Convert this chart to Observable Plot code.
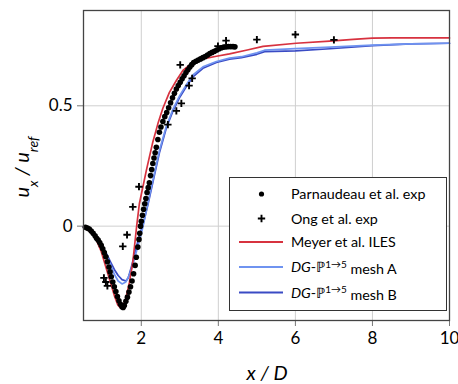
<!DOCTYPE html>
<html><head><meta charset="utf-8">
<script src="https://cdn.jsdelivr.net/npm/d3@7"></script>
<script src="https://cdn.jsdelivr.net/npm/@observablehq/plot@0.6"></script>
<style>body{margin:0;background:#fff;} svg{font-family:Lato, sans-serif;}</style>
</head><body><div id="chart"></div>
<script>
const xTicks = [2, 4, 6, 8, 10];
const yTicks = [0, 0.5];

const parnX = [0.55,0.6,0.65,0.7,0.75,0.8,0.84,0.88,0.92,0.96,1.0,1.04,1.08,1.12,1.16,1.19,1.22,1.26,1.3,1.34,1.38,1.42,1.46,1.5,1.53,1.56,1.6,1.64,1.68,1.72,1.76,1.8,1.84,1.87,1.91,1.94,1.96,1.98,2.0,2.03,2.06,2.09,2.12,2.15,2.18,2.21,2.24,2.27,2.3,2.33,2.36,2.39,2.43,2.47,2.51,2.56,2.61,2.66,2.71,2.76,2.81,2.86,2.91,2.96,3.01,3.06,3.11,3.16,3.21,3.26,3.31,3.36,3.42,3.48,3.54,3.6,3.66,3.72,3.78,3.84,3.9,3.96,4.02,4.08,4.14,4.2,4.26,4.32,4.38,4.43];
const parnY = [-0.005,-0.008,-0.012,-0.02,-0.03,-0.04,-0.05,-0.058,-0.068,-0.08,-0.094,-0.11,-0.127,-0.148,-0.17,-0.19,-0.21,-0.232,-0.252,-0.272,-0.292,-0.31,-0.325,-0.335,-0.338,-0.33,-0.312,-0.295,-0.274,-0.252,-0.228,-0.198,-0.163,-0.129,-0.087,-0.055,-0.03,0.0,0.02,0.045,0.07,0.093,0.115,0.14,0.16,0.18,0.21,0.235,0.26,0.283,0.305,0.328,0.36,0.39,0.412,0.435,0.455,0.472,0.492,0.513,0.533,0.552,0.57,0.584,0.598,0.612,0.625,0.638,0.65,0.661,0.671,0.68,0.685,0.69,0.695,0.7,0.705,0.711,0.717,0.722,0.727,0.732,0.737,0.741,0.744,0.745,0.746,0.746,0.746,0.745];

const ongX = [1.03,1.08,1.12,1.52,1.63,1.78,1.94,2.69,2.91,3.04,3.01,3.24,3.32,3.99,4.2,5.0,6.0,7.0];
const ongY = [-0.215,-0.232,-0.248,-0.084,-0.036,0.08,0.164,0.422,0.479,0.51,0.67,0.584,0.614,0.748,0.771,0.775,0.796,0.774];

const meyerX = [0.5,0.65,0.8,0.96,1.09,1.22,1.31,1.39,1.46,1.52,1.6,1.69,1.78,1.88,1.95,2.13,2.3,2.43,2.56,2.73,2.91,3.08,3.34,3.6,3.95,4.29,4.75,5.16,6.02,6.89,7.5,8.0,8.5,10];
const meyerY = [-0.003,-0.02,-0.045,-0.105,-0.175,-0.245,-0.293,-0.327,-0.34,-0.336,-0.3,-0.235,-0.15,0.0,0.093,0.231,0.35,0.425,0.49,0.556,0.605,0.647,0.68,0.695,0.706,0.716,0.732,0.747,0.76,0.769,0.776,0.781,0.782,0.782];

const meshAX = [0.5,0.65,0.8,0.95,1.1,1.2,1.3,1.4,1.5,1.6,1.7,1.8,1.9,2.0,2.04,2.17,2.3,2.47,2.65,2.82,2.99,3.17,3.34,3.6,3.95,4.29,4.6,5.0,5.2,6.0,6.9,8.0,9.0,10];
const meshAY = [-0.003,-0.015,-0.04,-0.075,-0.125,-0.16,-0.2,-0.228,-0.24,-0.232,-0.2,-0.15,-0.09,-0.03,-0.005,0.095,0.19,0.314,0.415,0.485,0.54,0.588,0.628,0.662,0.684,0.698,0.704,0.72,0.731,0.738,0.744,0.752,0.757,0.76];

const meshBX = [0.5,0.65,0.8,0.95,1.1,1.2,1.3,1.4,1.5,1.6,1.66,1.75,1.85,1.95,2.05,2.17,2.3,2.47,2.65,2.82,2.99,3.17,3.34,3.6,3.95,4.29,4.6,5.0,5.2,6.0,6.9,8.0,9.0,10];
const meshBY = [-0.003,-0.014,-0.037,-0.07,-0.115,-0.148,-0.18,-0.205,-0.222,-0.228,-0.215,-0.165,-0.1,-0.04,0.01,0.088,0.182,0.305,0.408,0.478,0.533,0.58,0.62,0.656,0.68,0.694,0.7,0.714,0.725,0.728,0.737,0.75,0.757,0.76];

const seriesNames = ["Parnaudeau et al. exp", "Ong et al. exp", "Meyer et al. ILES", "mesh A", "mesh B"];
const colors = {red: "#d7323f", lightBlue: "#6f93f0", darkBlue: "#3a4bc4"};

const zip = (xs, ys) => xs.map((x, i) => ({x, y: ys[i]}));
const parn = zip(parnX, parnY), ong = zip(ongX, ongY);
const meyer = zip(meyerX, meyerY), meshA = zip(meshAX, meshAY), meshB = zip(meshBX, meshBY);

const plot = Plot.plot({
  width: 458, height: 384,
  marginLeft: 83, marginRight: 9, marginTop: 10, marginBottom: 64,
  style: {fontFamily: "Lato, sans-serif", fontSize: "17px", color: "#000", background: "white"},
  x: {domain: [0.5, 10], label: null},
  y: {domain: [-0.392, 0.896], label: null},
  marks: [
    Plot.gridX(xTicks.filter(d => d < 10), {stroke: "#cfcfcf", strokeOpacity: 1, strokeWidth: 1}),
    Plot.gridY(yTicks, {stroke: "#cfcfcf", strokeOpacity: 1, strokeWidth: 1}),
    Plot.axisX({ticks: xTicks, tickSize: 6, stroke: "#777", tickPadding: 5, fontSize: 17, label: null, tickFormat: d => String(d)}),
    Plot.axisY({ticks: yTicks, tickSize: 6, stroke: "#777", tickPadding: 5, fontSize: 17, label: null, tickFormat: d => String(d)}),
    Plot.line(meshB, {x: "x", y: "y", stroke: colors.darkBlue, strokeWidth: 1.7}),
    Plot.line(meshA, {x: "x", y: "y", stroke: colors.lightBlue, strokeWidth: 1.7}),
    Plot.line(meyer, {x: "x", y: "y", stroke: colors.red, strokeWidth: 1.7}),
    Plot.dot(parn, {x: "x", y: "y", r: 2.8, fill: "black", stroke: "none"}),
    Plot.dot(ong, {x: "x", y: "y", symbol: "plus", r: 2.5, stroke: "black", strokeWidth: 1.9}),
    Plot.frame({stroke: "#444", strokeWidth: 1.3})
  ]
});
document.getElementById("chart").appendChild(plot);

const svg = d3.select(plot);
// axis labels
const xl = svg.append("text").attr("x", 267).attr("y", 380).attr("text-anchor", "middle")
  .style("font-size", "20px").style("font-style", "italic").style("font-family", "Lato, sans-serif");
xl.text("x / D");
const yl = svg.append("text").attr("transform", "translate(29,167) rotate(-90)").attr("text-anchor", "middle")
  .style("font-size", "20px").style("font-style", "italic").style("font-family", "Lato, sans-serif");
yl.append("tspan").text("u");
yl.append("tspan").attr("baseline-shift", "sub").style("font-size", "14px").text("x");
yl.append("tspan").text(" / u");
yl.append("tspan").attr("baseline-shift", "sub").style("font-size", "14px").text("ref");

// legend
const lg = svg.append("g").attr("text-anchor", "start").style("font-family", "Lato, sans-serif").style("font-size", "14.3px");
lg.append("rect").attr("x", 229.5).attr("y", 177.5).attr("width", 217).attr("height", 133)
  .attr("fill", "white").attr("stroke", "#333").attr("stroke-width", 1);
const rowY = [194, 218.5, 242, 267, 292.5];
const tx = 291;
lg.append("circle").attr("cx", 261.5).attr("cy", rowY[0]).attr("r", 2.6).attr("fill", "black");
lg.append("path").attr("d", d3.symbol(d3.symbolPlus, Math.PI * 2.5 * 2.5)()).attr("transform", `translate(261.5,${rowY[1]})`).attr("stroke", "black").attr("stroke-width", 1.9).attr("fill", "none");
[[2, colors.red], [3, colors.lightBlue], [4, colors.darkBlue]].forEach(([i, c]) => {
  lg.append("line").attr("x1", 239).attr("x2", 283).attr("y1", rowY[i]).attr("y2", rowY[i]).attr("stroke", c).attr("stroke-width", 1.8);
});
const label = (i) => lg.append("text").attr("x", tx).attr("y", rowY[i]).attr("dy", "0.36em").attr("text-anchor", "start");
label(0).text(seriesNames[0]);
label(1).text(seriesNames[1]);
label(2).text(seriesNames[2]);
[3, 4].forEach(i => {
  const t = label(i);
  t.append("tspan").style("font-style", "italic").text("DG");
  t.append("tspan").text("-ℙ");
  t.append("tspan").attr("dy", "-0.45em").style("font-size", "10px").text("1→5");
  t.append("tspan").attr("dy", "0.45em").text(" " + seriesNames[i]);
});
</script></body></html>
